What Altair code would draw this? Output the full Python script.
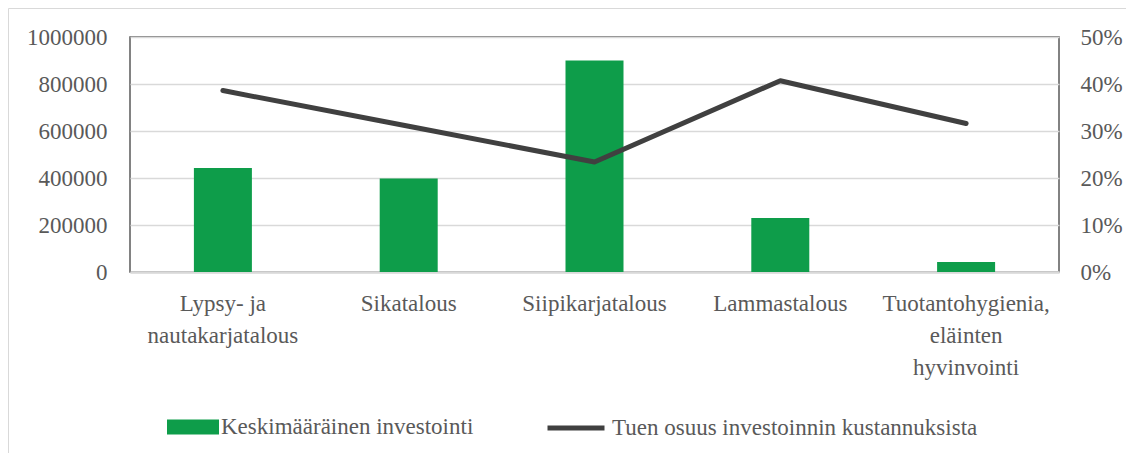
import altair as alt
import pandas as pd

categories = ["Lypsy- ja nautakarjatalous", "Sikatalous", "Siipikarjatalous",
              "Lammastalous", "Tuotantohygienia, eläinten hyvinvointi"]
label_lines = [["Lypsy- ja", "nautakarjatalous"], ["Sikatalous"], ["Siipikarjatalous"],
               ["Lammastalous"], ["Tuotantohygienia,", "eläinten", "hyvinvointi"]]
investment = [443000, 398000, 900000, 230000, 43000]
support_share = [0.386, 0.310, 0.234, 0.407, 0.316]
series_bar = "Keskimääräinen investointi"
series_line = "Tuen osuus investoinnin kustannuksista"
left_ticks = [0, 200000, 400000, 600000, 800000, 1000000]
right_ticks = [0, 0.1, 0.2, 0.3, 0.4, 0.5]

GREEN = "#0E9D4A"
DARK = "#404040"
TEXT = "#595959"
GRID = "#D9D9D9"
FONT = "Liberation Serif"
FS = 23

df = pd.DataFrame({
    "Toimiala": categories,
    "Investointi": investment,
    "Osuus": support_share,
    "SarjaB": [series_bar] * len(categories),
    "SarjaL": [series_line] * len(categories),
})

expr = "datum.value"
for cat, lines in reversed(list(zip(categories, label_lines))):
    arr = "[" + ", ".join("'" + l + "'" for l in lines) + "]"
    expr = f"datum.value == '{cat}' ? {arr} : ({expr})"

x_enc = alt.X("Toimiala:N", sort=categories, title=None,
              scale=alt.Scale(paddingInner=0, paddingOuter=0),
              axis=alt.Axis(labelAngle=0, labelExpr=expr, domain=True, domainColor=GRID,
                            domainWidth=2.5, ticks=False, labelPadding=20,
                            labelLineHeight=32, labelFontSize=FS, labelBaseline="top"))

bars = alt.Chart(df).mark_bar(size=58).encode(
    x=x_enc,
    y=alt.Y("Investointi:Q", title=None,
            scale=alt.Scale(domain=[0, 1000000], nice=False),
            axis=alt.Axis(values=left_ticks, format="d", grid=True, gridColor=GRID,
                          gridWidth=1.5, labelPadding=23, orient="left")),
    color=alt.Color("SarjaB:N", scale=alt.Scale(range=[GREEN]),
                    legend=alt.Legend(title=None, orient="none", legendX=37, legendY=364,
                                      symbolType="M-1,-0.29H1V0.29H-1Z", symbolSize=2704,
                                      symbolStrokeWidth=0, labelOffset=2, padding=0)),
)

line = alt.Chart(df).mark_line(strokeWidth=5, strokeCap="round", strokeJoin="round").encode(
    x=alt.X("Toimiala:N", sort=categories),
    y=alt.Y("Osuus:Q", title=None,
            scale=alt.Scale(domain=[0, 0.5], nice=False),
            axis=alt.Axis(values=right_ticks, format=".0%", grid=False, orient="right",
                          labelPadding=21)),
    stroke=alt.Stroke("SarjaL:N", scale=alt.Scale(range=[DARK]),
                      legend=alt.Legend(title=None, orient="none", legendX=415, legendY=360,
                                        symbolType="stroke", symbolSize=3249,
                                        symbolStrokeWidth=5, labelOffset=5, padding=0)),
)

frame_df = pd.DataFrame({"f": [1]})
frame = alt.Chart(frame_df).mark_rect(fill=None, stroke=GRID, strokeWidth=1).encode(
    x=alt.value(-121.5), x2=alt.value(1100), y=alt.value(-28.5), y2=alt.value(600)
)

chart = alt.layer(frame, bars, line).resolve_scale(
    y="independent", color="independent"
).properties(
    width=929, height=235,
    autosize=alt.AutoSizeParams(type="none"),
    padding={"left": 122, "top": 29, "right": 67, "bottom": 181},
).configure_view(
    stroke=TEXT, strokeWidth=1.5
).configure_axis(
    labelFont=FONT, labelFontSize=FS, labelColor=TEXT, ticks=False, domain=False,
    titleFont=FONT
).configure_axisX(
    domain=True
).configure_legend(
    labelFont=FONT, labelFontSize=FS, labelColor=TEXT, labelLimit=0
)

chart.save("out.html", embed_options={"renderer": "svg", "actions": False})
